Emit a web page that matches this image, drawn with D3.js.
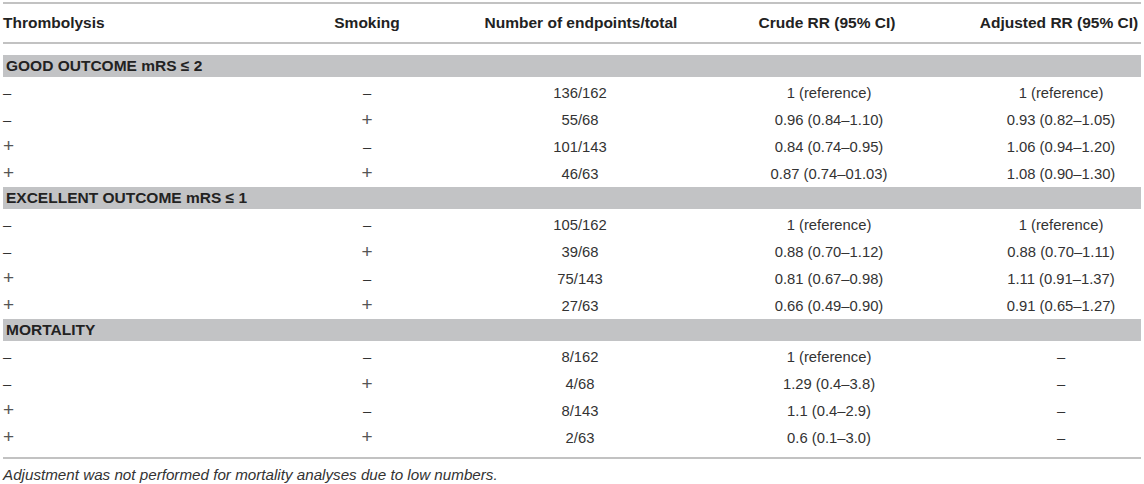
<!DOCTYPE html>
<html>
<head>
<meta charset="utf-8">
<script src="https://cdn.jsdelivr.net/npm/d3@7"></script>
<style>
  body { margin: 0; background: #fff; }
  text { font-family: "Liberation Sans", Arial, Helvetica, sans-serif; }
</style>
</head>
<body>
<svg id="table"></svg>
<script>
// Table contents
const headers = ["Thrombolysis", "Smoking", "Number of endpoints/total", "Crude RR (95% CI)", "Adjusted RR (95% CI)"];
const groups = ["GOOD OUTCOME mRS \u2264 2", "EXCELLENT OUTCOME mRS \u2264 1", "MORTALITY"];
const thrombolysis = ["\u2013", "\u2013", "+", "+"];
const smoking = ["\u2013", "+", "\u2013", "+"];
const endpoints = [
    ["136/162", "55/68", "101/143", "46/63"],
    ["105/162", "39/68", "75/143", "27/63"],
    ["8/162", "4/68", "8/143", "2/63"]
];
const crudeRR = [
    ["1 (reference)", "0.96 (0.84\u20131.10)", "0.84 (0.74\u20130.95)", "0.87 (0.74\u201301.03)"],
    ["1 (reference)", "0.88 (0.70\u20131.12)", "0.81 (0.67\u20130.98)", "0.66 (0.49\u20130.90)"],
    ["1 (reference)", "1.29 (0.4\u20133.8)", "1.1 (0.4\u20132.9)", "0.6 (0.1\u20133.0)"]
];
const adjustedRR = [
    ["1 (reference)", "0.93 (0.82\u20131.05)", "1.06 (0.94\u20131.20)", "1.08 (0.90\u20131.30)"],
    ["1 (reference)", "0.88 (0.70\u20131.11)", "1.11 (0.91\u20131.37)", "0.91 (0.65\u20131.27)"],
    ["\u2013", "\u2013", "\u2013", "\u2013"]
];
const footnote = "Adjustment was not performed for mortality analyses due to low numbers.";

const width = 1144, height = 484;
const left = 3, right = 1141;

const svg = d3.select("#table")
    .attr("width", width)
    .attr("height", height);

// Column positions (first column left aligned, others centered)
const x = d3.scaleOrdinal()
    .domain(d3.range(5))
    .range([left, 367, 580, 829, 1061]);
const headerX = d3.scaleOrdinal()
    .domain(d3.range(5))
    .range([left, 367, 581, 827, 1059]);

// Vertical layout: group band tops, rows inside groups
const bandY = d3.scaleLinear().domain([0, 1]).range([55, 187]);
const bandH = 22;
const rowY = d3.scaleLinear().domain([0, 1]).range([38, 64.8]);

const lineColor = "#aeaeae";
const bandColor = "#c2c3c5";
const textColor = "#222";

// Horizontal rules
[3, 43, 458].forEach(yy => {
    svg.append("line")
        .attr("x1", left).attr("x2", right)
        .attr("y1", yy).attr("y2", yy)
        .attr("stroke", lineColor)
        .attr("stroke-width", 1.5);
});

// Header
svg.append("g").selectAll("text")
    .data(headers)
    .enter()
    .append("text")
    .attr("x", (d, i) => headerX(i))
    .attr("y", 23)
    .attr("dy", "0.35em")
    .attr("text-anchor", (d, i) => i === 0 ? "start" : "middle")
    .attr("font-size", "15.5px")
    .attr("font-weight", "bold")
    .attr("fill", textColor)
    .text(d => d);

// Groups
groups.forEach((g, gi) => {
    const top = bandY(gi);
    svg.append("rect")
        .attr("x", left)
        .attr("y", top)
        .attr("width", right - left)
        .attr("height", bandH)
        .attr("fill", bandColor);
    svg.append("text")
        .attr("x", left + 3)
        .attr("y", top + bandH / 2)
        .attr("dy", "0.35em")
        .attr("font-size", "15.5px")
        .attr("font-weight", "bold")
        .attr("fill", textColor)
        .text(g);

    const rows = thrombolysis.map((t, i) => [t, smoking[i], endpoints[gi][i], crudeRR[gi][i], adjustedRR[gi][i]]);
    const rowG = svg.append("g").selectAll("g")
        .data(rows)
        .enter()
        .append("g")
        .attr("transform", (d, i) => `translate(0, ${top + rowY(i)})`);
    rowG.selectAll("text")
        .data(d => d)
        .enter()
        .append("text")
        .attr("x", (d, i) => x(i))
        .attr("dy", d => d === "+" ? "0.3em" : "0.35em")
        .attr("text-anchor", (d, i) => i === 0 ? "start" : "middle")
        .attr("font-size", d => d === "+" ? "19px" : "14.8px")
        .attr("fill", d => d === "+" ? "#555" : "#333")
        .text(d => d);
});

// Footnote
svg.append("text")
    .attr("x", left)
    .attr("y", 475)
    .attr("dy", "0.35em")
    .attr("font-size", "15.2px")
    .attr("font-style", "italic")
    .attr("fill", "#333")
    .text(footnote);
</script>
</body>
</html>
